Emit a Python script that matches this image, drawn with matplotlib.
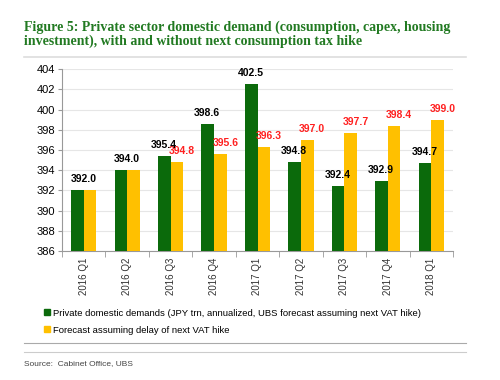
import numpy as np
import matplotlib.pyplot as plt
from matplotlib.lines import Line2D

quarters = ['2016 Q1', '2016 Q2', '2016 Q3', '2016 Q4', '2017 Q1',
            '2017 Q2', '2017 Q3', '2017 Q4', '2018 Q1']
base = [392.0, 394.0, 395.4, 398.6, 402.5, 394.8, 392.4, 392.9, 394.7]
delay = [392.0, 394.0, 394.8, 395.6, 396.3, 397.0, 397.7, 398.4, 399.0]

green = '#0b6a0b'
yellow = '#ffc000'
title_green = '#227a22'

fig = plt.figure(figsize=(5, 3.8), dpi=100)
ax = fig.add_axes([0.124, 0.3395, 0.782, 0.4785])

x = np.arange(len(quarters))
w = 0.29
ax.bar(x - w / 2, [b - 386 for b in base], w, bottom=386, color=green, zorder=3)
ax.bar(x + w / 2, [d - 386 for d in delay], w, bottom=386, color=yellow, zorder=3)

lab = dict(fontsize=7.5, fontweight='bold', family='Liberation Sans', ha='center', va='bottom')
for i in range(len(quarters)):
    if base[i] == delay[i]:
        ax.text(x[i], base[i] + 0.6, '%.1f' % base[i], color='black', **lab)
    else:
        ax.text(x[i] - w * 0.55, base[i] + 0.6, '%.1f' % base[i], color='black', zorder=5, **lab)
        ax.text(x[i] + w * 0.9, delay[i] + 0.6, '%.1f' % delay[i], color='#ff2020', zorder=4, **lab)

ax.set_xlim(-0.5, len(quarters) - 0.5)
ax.set_ylim(386, 404)
ax.set_yticks(np.arange(386, 405, 2))
ax.tick_params(axis='y', labelsize=8, length=3, color='#999999', pad=2)
ax.set_xticks(x)
ax.set_xticklabels(quarters, rotation=90, fontsize=7, color='#333333')
ax.tick_params(axis='x', length=0, pad=5)
ax.set_xticks(np.arange(-0.5, len(quarters), 1), minor=True)
ax.tick_params(axis='x', which='minor', length=4, color='#999999')
for lbl in ax.get_yticklabels():
    lbl.set_family('Liberation Sans')
for lbl in ax.get_xticklabels():
    lbl.set_family('Liberation Sans')
ax.grid(axis='y', color='#e6e6e6', linewidth=0.8, zorder=0)
for s in ['top', 'right']:
    ax.spines[s].set_visible(False)
ax.spines['left'].set_color('#999999')
ax.spines['bottom'].set_color('#999999')

fig.text(0.048, 0.945, 'Figure 5: Private sector domestic demand (consumption, capex, housing\ninvestment), with and without next consumption tax hike',
         fontsize=10, fontweight='bold', family='Liberation Serif', color=title_green,
         va='top', linespacing=1.05)

fig.add_artist(Line2D([0.048, 0.932], [0.850, 0.850], color='#dddddd', lw=1.2))

handles = [Line2D([], [], marker='s', ls='', color=green, markersize=4),
           Line2D([], [], marker='s', ls='', color=yellow, markersize=4)]
fig.legend(handles, ['Private domestic demands (JPY trn, annualized, UBS forecast assuming next VAT hike)',
                     'Forecast assuming delay of next VAT hike'],
           loc='upper left', bbox_to_anchor=(0.085, 0.188), frameon=False,
           prop={'family': 'Liberation Sans', 'size': 6.8}, handletextpad=0.1,
           handlelength=1.0, labelspacing=0.85, borderaxespad=0, borderpad=0)

fig.add_artist(Line2D([0.048, 0.932], [0.097, 0.097], color='#aaaaaa', lw=0.8))
fig.add_artist(Line2D([0.048, 0.932], [0.073, 0.073], color='#cccccc', lw=0.8))
fig.text(0.048, 0.043, 'Source:  Cabinet Office, UBS', fontsize=6, family='Liberation Sans',
         color='#444444', va='center')

fig.savefig('out.png', dpi=100)
